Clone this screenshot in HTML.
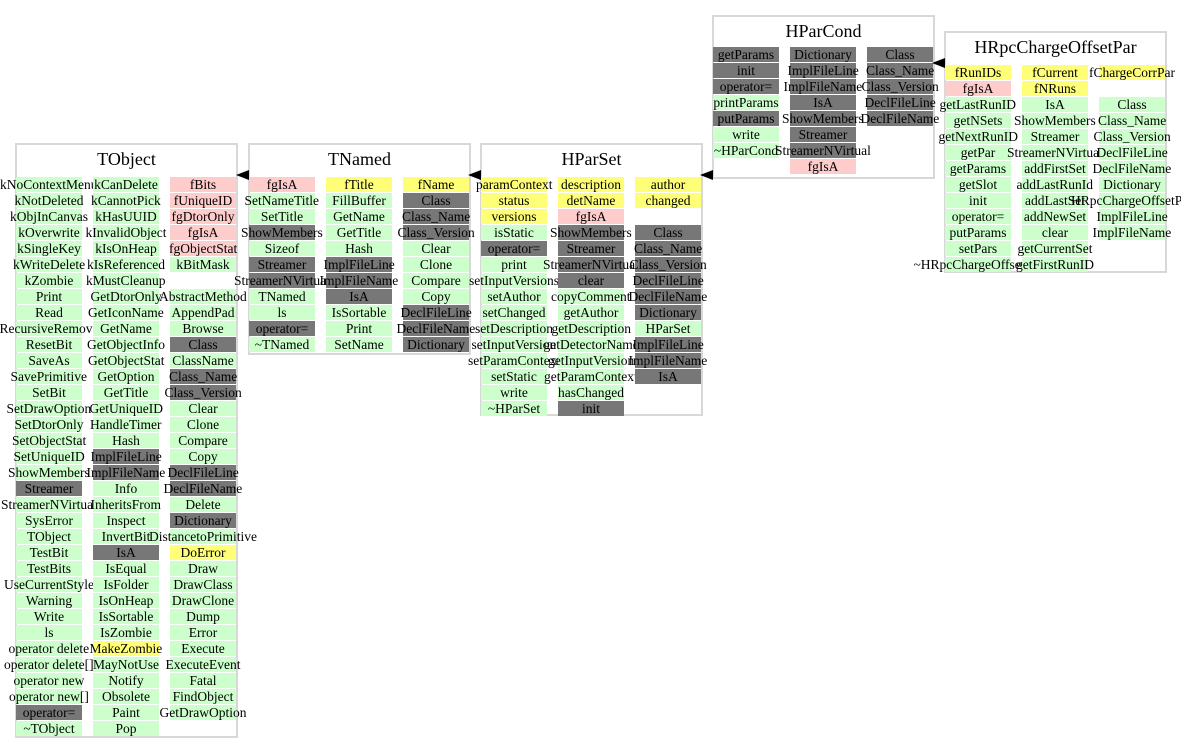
<!DOCTYPE html>
<html><head><meta charset="utf-8"><style>
body{margin:0;width:1181px;height:752px;background:#fff;position:relative;overflow:hidden;font-family:"Liberation Serif",serif;}
.box{position:absolute;border:2px solid #d8d8d8;background:#fff;box-sizing:border-box;}
.title{position:absolute;left:0;right:0;text-align:center;font-size:18px;color:#000;}
.cell{position:absolute;width:66px;height:15px;line-height:15px;font-size:13.5px;text-align:center;white-space:nowrap;color:#000;}
.cell span{position:relative;display:inline-block;}
.G{background:#ccffcc}.D{background:#777777}.P{background:#ffcccc}.Y{background:#ffff77}
.arrow{position:absolute;width:0;height:0;border-top:5px solid transparent;border-bottom:5px solid transparent;border-right:13px solid #000;}
</style></head><body>
<script>
const tobject = [
 ["kNoContextMenu","kNotDeleted","kObjInCanvas","kOverwrite","kSingleKey","kWriteDelete","kZombie","Print","Read","RecursiveRemove","ResetBit","SaveAs","SavePrimitive","SetBit","SetDrawOption","SetDtorOnly","SetObjectStat","SetUniqueID","ShowMembers","D:Streamer","StreamerNVirtual","SysError","TObject","TestBit","TestBits","UseCurrentStyle","Warning","Write","ls","operator delete","operator delete[]","operator new","operator new[]","D:operator=","~TObject"],
 ["kCanDelete","kCannotPick","kHasUUID","kInvalidObject","kIsOnHeap","kIsReferenced","kMustCleanup","GetDtorOnly","GetIconName","GetName","GetObjectInfo","GetObjectStat","GetOption","GetTitle","GetUniqueID","HandleTimer","Hash","D:ImplFileLine","D:ImplFileName","Info","InheritsFrom","Inspect","InvertBit","D:IsA","IsEqual","IsFolder","IsOnHeap","IsSortable","IsZombie","Y:MakeZombie","MayNotUse","Notify","Obsolete","Paint","Pop"],
 ["P:fBits","P:fUniqueID","P:fgDtorOnly","P:fgIsA","P:fgObjectStat","kBitMask","","AbstractMethod","AppendPad","Browse","D:Class","ClassName","D:Class_Name","D:Class_Version","Clear","Clone","Compare","Copy","D:DeclFileLine","D:DeclFileName","Delete","D:Dictionary","DistancetoPrimitive","Y:DoError","Draw","DrawClass","DrawClone","Dump","Error","Execute","ExecuteEvent","Fatal","FindObject","GetDrawOption"]
];
const tnamed = [
 ["P:fgIsA","SetNameTitle","SetTitle","D:ShowMembers","Sizeof","D:Streamer","D:StreamerNVirtual","TNamed","ls","D:operator=","~TNamed"],
 ["Y:fTitle","FillBuffer","GetName","GetTitle","Hash","D:ImplFileLine","D:ImplFileName","D:IsA","IsSortable","Print","SetName"],
 ["Y:fName","D:Class","D:Class_Name","D:Class_Version","Clear","Clone","Compare","Copy","D:DeclFileLine","D:DeclFileName","D:Dictionary"]
];
const hparset = [
 ["Y:paramContext","Y:status","Y:versions","isStatic","D:operator=","print","setInputVersions","setAuthor","setChanged","setDescription","setInputVersion","setParamContext","setStatic","write","~HParSet"],
 ["Y:description","Y:detName","P:fgIsA","D:ShowMembers","D:Streamer","D:StreamerNVirtual","D:clear","copyComment","getAuthor","getDescription","getDetectorName","getInputVersion","getParamContext","hasChanged","D:init"],
 ["Y:author","Y:changed","","D:Class","D:Class_Name","D:Class_Version","D:DeclFileLine","D:DeclFileName","D:Dictionary","HParSet","D:ImplFileLine","D:ImplFileName","D:IsA"]
];
const hparcond = [
 ["D:getParams","D:init","D:operator=","printParams","D:putParams","write","~HParCond"],
 ["D:Dictionary","D:ImplFileLine","D:ImplFileName","D:IsA","D:ShowMembers","D:Streamer","D:StreamerNVirtual","P:fgIsA"],
 ["D:Class","D:Class_Name","D:Class_Version","D:DeclFileLine","D:DeclFileName"]
];
const hrpc = [
 ["Y:fRunIDs","P:fgIsA","getLastRunID","getNSets","getNextRunID","getPar","getParams","getSlot","init","operator=","putParams","setPars","~HRpcChargeOffsetPar"],
 ["Y:fCurrent","Y:fNRuns","IsA","ShowMembers","Streamer","StreamerNVirtual","addFirstSet","addLastRunId","addLastSet","addNewSet","clear","getCurrentSet","getFirstRunID"],
 ["Y:fChargeCorrPar","","Class","Class_Name","Class_Version","DeclFileLine","DeclFileName","Dictionary","HRpcChargeOffsetPar","ImplFileLine","ImplFileName"]
];
function drawBox(name, title, cols, x, y, h, cellTop){
  const b=document.createElement('div');
  b.className='box';
  
  
  b.style.left=x+'px';b.style.top=y+'px';b.style.width='223px';b.style.height=h+'px';
  const t=document.createElement('div');
  t.className='title';t.textContent=title;t.style.top='4px';
  
  
  b.appendChild(t);
  document.body.appendChild(b);
  cols.forEach((col,ci)=>{
    col.forEach((s,ri)=>{
      if(!s) return;
      let cls='G',txt=s;
      if(s[1]===':'){cls=s[0];txt=s.slice(2);}
      const c=document.createElement('div');
      c.className='cell '+cls;
      
      
      c.style.left=(x+1+ci*77)+'px';
      c.style.top=(cellTop+ri*16)+'px';
      const sp=document.createElement('span');
      sp.textContent=txt;
      c.appendChild(sp);
      document.body.appendChild(c);
    });
  });
}
function arrow(x,y){
  const a=document.createElement('div');
  a.className='arrow';
  
  
  a.style.left=x+'px';a.style.top=(y-5)+'px';
  document.body.appendChild(a);
}
drawBox('tobject-box','TObject',tobject,15,143,595,177);
drawBox('tnamed-box','TNamed',tnamed,248,143,212,177);
drawBox('hparset-box','HParSet',hparset,480,143,273,177);
drawBox('hparcond-box','HParCond',hparcond,712,15,164,47);
drawBox('hrpc-box','HRpcChargeOffsetPar',hrpc,944,31,242,65);
document.querySelectorAll('.cell span').forEach(sp=>{const w=sp.offsetWidth;sp.style.left=w>66?((66-w)/2)+'px':'0';sp.parentNode.style.textAlign=w>66?'left':'center';});
arrow(236,175);arrow(468,175);arrow(700,175);arrow(932,63);
</script>
</body></html>
